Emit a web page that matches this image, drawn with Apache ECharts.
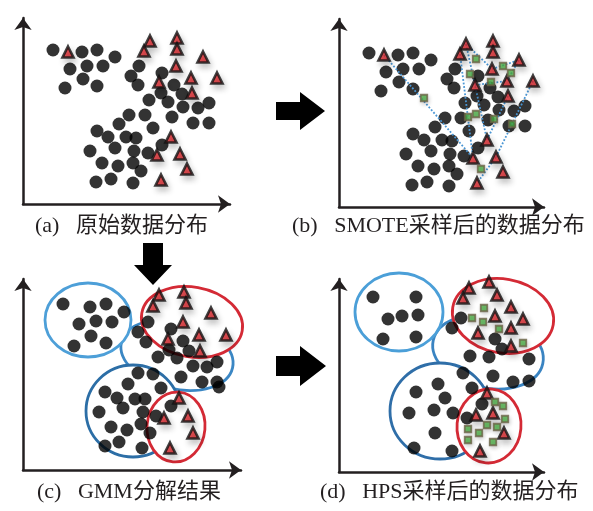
<!DOCTYPE html>
<html><head><meta charset="utf-8">
<script src="https://cdn.jsdelivr.net/npm/echarts@6/dist/echarts.min.js"></script>
<style>html,body{margin:0;padding:0;background:#fff}#c{width:593px;height:511px}</style>
</head><body><div id="c"></div>
<script>
// ---------- data (panel-local coordinates, origin at axes corner) ----------
// panel (a) and (b): original distribution
const abCircles = [[30,154],[59,152],[74,154],[92,147],[47,135],[64,138],[80,138],[60,125],[42,116],[74,118],
 [116,138],[108,128],[115,119],[139,131],[138,111],[151,119],[159,110],[126,104],[145,102],[160,97],[175,96],[186,101],
 [149,87],[170,81],[186,81],[106,89],[122,89],[96,80],[130,76],[74,73],[85,67],[103,67],[113,66],[139,59],
 [67,53],[92,56],[111,53],[125,51],[79,41],[95,38],[110,41],[118,33],[73,22],[88,25],[110,21]];
const abTriangles = [[45,152],[127,163],[121,153],[154,166],[154,155],[180,147],[153,138],[168,126],[194,126],
 [136,122],[169,111],[148,67],[134,49],[157,50],[164,35],[138,24]];
const smoteSquares = [[137,148],[85,109],[164,141],[172,134],[131,133],[152,125],[129,90],[137,93],[155,88],[173,83],[142,38]];
const smoteLinks = [[0,12],[2,12],[1,11],[1,6],[6,5],[5,7],[9,7],[10,11],[8,13],[13,15]];

// panel (c): GMM decomposition
const cCircles = [[40,166],[67,163],[83,166],[101,158],[56,146],[73,149],[89,148],[68,134],[51,124],[83,127],
 [125,148],[115,138],[123,128],[148,141],[160,129],[146,120],[166,119],[135,113],[154,112],[170,104],[184,103],[194,108],
 [158,93],[179,88],[194,88],[196,83],[115,97],[130,96],[105,86],[138,82],[82,78],[94,72],[112,71],[122,71],[148,64],
 [76,58],[100,62],[120,58],[133,54],[88,43],[104,40],[118,46],[127,37],[82,24],[96,28],[119,22]];
const cTriangles = [[136,175],[161,178],[130,164],[163,167],[188,157],[160,148],[176,135],[203,135],[145,131],[177,119],
 [156,72],[141,52],[165,54],[170,37],[147,22]];
// ellipses: [cx, cy, rx, ry, rotationDeg, colour]
const cEllipses = [[154,115,57,34,-13,'#3b87c4'],[65,150,43,37,0,'#4d9fd8'],[169,148,51,35,-10,'#d42a35'],
 [110,59,47,46,0,'#2c6ea6'],[153,43,29,35,-5,'#d42a35']];

// panel (d): HPS sampling
const dCircles = [[34,175],[77,175],[49,153],[63,156],[79,157],[44,133],[77,135],[122,154],[113,144],[156,133],[163,123],
 [131,116],[150,115],[190,113],[124,99],[154,96],[174,90],[190,91],[133,84],[77,80],[99,88],[106,74],[70,59],[95,62],
 [114,59],[143,68],[128,54],[96,39],[75,24],[113,21]];
const dTriangles = [[130,184],[150,190],[124,174],[158,177],[172,165],[156,156],[184,153],[139,139],[172,144],[172,126],
 [148,79],[137,57],[154,59],[165,39],[141,21]];
const dSquares = [[145,164],[133,154],[144,150],[160,143],[184,129],
 [156,70],[164,66],[166,53],[148,47],[158,45],[129,43],[140,39],[129,32],[154,30]];
const dEllipses = [[149,120,56,36,-12,'#3a84c2'],[60,160,44,39,0,'#4b9fd8'],[164,156,51,37,-10,'#d42a35'],
 [101,61,50,48,0,'#2f6ea8'],[150,46,32,37,-5,'#d42a35']];

const captionTags = ['(a)','(b)','(c)','(d)'];
const captionTexts = ['原始数据分布','SMOTE采样后的数据分布','GMM分解结果','HPS采样后的数据分布'];

// ---------- layout ----------
const grids = [
 {left:23, top:18, width:207, height:186},
 {left:339, top:19, width:205, height:188},
 {left:23, top:279, width:218, height:191},
 {left:339, top:279, width:205, height:193}
];
const axisCol = '#231f20';
function axis(i, max){
  return {type:'value', gridIndex:i, min:0, max:max, show:true,
    axisLine:{show:true, onZero:false, symbol:['none','arrow'], symbolSize:[13,12], lineStyle:{color:axisCol, width:2.5}},
    axisTick:{show:false}, axisLabel:{show:false}, splitLine:{show:false}};
}
const xAxes = grids.map((g,i)=>axis(i,g.width));
const yAxes = grids.map((g,i)=>axis(i,g.height));

const triStyle = {color:'#e3242b', borderColor:'#111', borderWidth:2.6,
  shadowBlur:6, shadowColor:'rgba(0,0,0,0.25)', shadowOffsetX:2, shadowOffsetY:4};
const sqStyle = {color:'#4fb548', borderColor:'#6b6146', borderWidth:1.8,
  shadowBlur:4, shadowColor:'rgba(0,0,0,0.2)', shadowOffsetX:1, shadowOffsetY:2};

function circles(i, data){ return {type:'scatter', xAxisIndex:i, yAxisIndex:i, data:data, symbol:'circle', symbolSize:13,
  itemStyle:{color:'#000'}, silent:true, z:3}; }
function tris(i, data){ return {type:'scatter', xAxisIndex:i, yAxisIndex:i, data:data, symbol:'triangle', symbolSize:11,
  itemStyle:triStyle, silent:true, z:5}; }
function squares(i, data){ return {type:'scatter', xAxisIndex:i, yAxisIndex:i, data:data, symbol:'rect', symbolSize:6.5,
  itemStyle:sqStyle, silent:true, z:6}; }
function ellipses(i, data){ return {type:'custom', xAxisIndex:i, yAxisIndex:i, data:data, silent:true, z:2, clip:false,
  renderItem:function(params, api){
    const d = data[params.dataIndex];
    const c = api.coord([d[0], d[1]]);
    const s = api.size([d[2], d[3]]);
    return {type:'ellipse', shape:{cx:0, cy:0, rx:s[0], ry:s[1]}, x:c[0], y:c[1], rotation:d[4]*Math.PI/180,
      style:{fill:'#fff', stroke:d[5], lineWidth:2.8}};
  }}; }

const series = [
  circles(0, abCircles), tris(0, abTriangles),
  circles(1, abCircles),
  {type:'lines', coordinateSystem:'cartesian2d', xAxisIndex:1, yAxisIndex:1, silent:true, z:4,
   data: smoteLinks.map(p=>({coords:[abTriangles[p[0]], abTriangles[p[1]]]})),
   lineStyle:{color:'#4a96d4', width:1.8, type:'dotted', opacity:1}},
  tris(1, abTriangles), squares(1, smoteSquares),
  ellipses(2, cEllipses), circles(2, cCircles), tris(2, cTriangles),
  ellipses(3, dEllipses), circles(3, dCircles), tris(3, dTriangles), squares(3, dSquares)
];

const capFont = {fontFamily:'"Liberation Serif", "Noto Sans CJK SC"', fontSize:22, fontWeight:'normal', color:'#231f20'};
const capPos = [[35,215],[292,215],[37,481],[320,481]];
const titles = captionTags.map((t,i)=>({text:t + '   ' + captionTexts[i], left:capPos[i][0], top:capPos[i][1], padding:0, textStyle:capFont}));

const arrowFill = '#000';
const chart = echarts.init(document.getElementById('c'), null, {renderer:'canvas'});
chart.setOption({
  animation:false, backgroundColor:'#fff',
  title: titles,
  grid: grids.map(g=>Object.assign({containLabel:false}, g)),
  xAxis: xAxes, yAxis: yAxes,
  series: series,
  graphic: [
    {type:'polygon', shape:{points:[[276,102],[300,102],[300,92],[325,111],[300,130],[300,120],[276,120]]}, style:{fill:arrowFill}},
    {type:'polygon', shape:{points:[[143,243],[163,243],[163,265],[172,265],[153,285],[134,265],[143,265]]}, style:{fill:arrowFill}},
    {type:'polygon', shape:{points:[[276,356],[300,356],[300,346],[326,366],[300,386],[300,376],[276,376]]}, style:{fill:arrowFill}}
  ]
});
</script></body></html>
